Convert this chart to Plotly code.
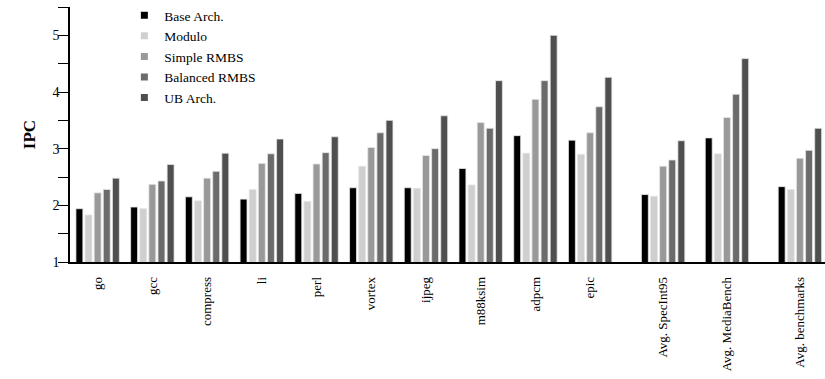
import plotly.graph_objects as go

# Benchmarks on the x axis
categories = ["go", "gcc", "compress", "li", "perl", "vortex", "ijpeg",
              "m88ksim", "adpcm", "epic", "Avg. SpecInt95", "Avg. MediaBench",
              "Avg. benchmarks"]

# IPC per architecture
series_names = ["Base Arch.", "Modulo", "Simple RMBS", "Balanced RMBS", "UB Arch."]
base_arch = [1.94, 1.97, 2.15, 2.11, 2.21, 2.31, 2.31, 2.65, 3.23, 3.15, 2.19, 3.19, 2.33]
modulo = [1.83, 1.94, 2.08, 2.28, 2.07, 2.69, 2.30, 2.36, 2.92, 2.90, 2.16, 2.91, 2.28]
simple_rmbs = [2.22, 2.37, 2.48, 2.74, 2.73, 3.02, 2.88, 3.46, 3.87, 3.28, 2.69, 3.55, 2.83]
balanced_rmbs = [2.28, 2.43, 2.60, 2.91, 2.93, 3.28, 3.00, 3.36, 4.20, 3.74, 2.80, 3.96, 2.97]
ub_arch = [2.48, 2.72, 2.92, 3.17, 3.21, 3.50, 3.58, 4.20, 5.00, 4.26, 3.14, 4.59, 3.36]

series_values = [base_arch, modulo, simple_rmbs, balanced_rmbs, ub_arch]
colors = ["#000000", "#cfcfcf", "#999999", "#6b6b6b", "#4f4f4f"]

# Layout: left slot of each group on a bar-slot scale (averages spaced apart)
group_start = [0, 6, 12, 18, 24, 30, 36, 42, 48, 54, 62, 69, 77]
group_center = [s + 2 for s in group_start]

FONT = "Liberation Serif"

fig = go.Figure()
for i, (name, vals, col) in enumerate(zip(series_names, series_values, colors)):
    fig.add_trace(go.Bar(
        x=[c + (i - 2) for c in group_center],
        y=vals,
        base=0,
        width=0.76,
        name=name,
        legendgroup=name,
        showlegend=False,
        marker=dict(color=col, line=dict(color="#e4e4e4", width=0.8)),
    ))
    # compact square swatch for the legend
    fig.add_trace(go.Scatter(
        x=[None], y=[None], mode="markers", name=name, legendgroup=name,
        marker=dict(symbol="square", size=7, color=col),
        showlegend=True,
    ))

fig.update_layout(
    width=825, height=379,
    margin=dict(l=70, r=0, t=7, b=117),
    paper_bgcolor="white", plot_bgcolor="white",
    barmode="overlay",
    font=dict(family=FONT, color="black", size=13),
    showlegend=True,
    legend=dict(
        x=0.072, xanchor="left", y=1.028, yanchor="top",
        font=dict(family=FONT, size=13.5, color="black"),
        bgcolor="rgba(0,0,0,0)", borderwidth=0,
        tracegroupgap=0, itemsizing="trace",
    ),
    xaxis=dict(
        range=[-1.03, 81.75],
        tickmode="array", tickvals=group_center, ticktext=categories,
        tickangle=-90, ticks="", ticklabelstandoff=8,
        tickfont=dict(family=FONT, size=13, color="black"),
        showgrid=False, zeroline=False,
        showline=True, linecolor="black", linewidth=1.5,
    ),
    yaxis=dict(
        range=[1, 5.5], dtick=1, tick0=1,
        ticks="outside", ticklen=10, tickwidth=1.2, tickcolor="black",
        ticklabelstandoff=-4,
        tickfont=dict(family=FONT, size=14, color="black"),
        minor=dict(dtick=0.5, tick0=1, ticks="outside", ticklen=10,
                   tickwidth=1.2, tickcolor="black", showgrid=False),
        showgrid=False, zeroline=False,
        showline=True, linecolor="black", linewidth=1.5,
        title=dict(text="<b>IPC</b>", font=dict(family=FONT, size=17, color="black"),
                   standoff=13),
    ),
)

fig.write_html("out.html")
